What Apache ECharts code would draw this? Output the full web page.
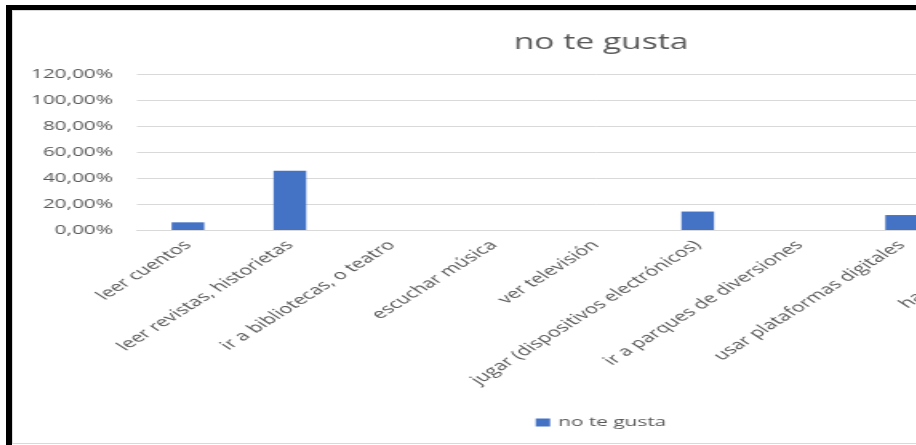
<!DOCTYPE html>
<html>
<head>
    <meta charset="utf-8">
    <title>no te gusta</title>
    <script src="https://cdn.jsdelivr.net/npm/echarts@6/dist/echarts.min.js"></script>
    <style>
        body { margin: 0; background: #fff; overflow: hidden; width: 916px; height: 445px; }
        /* black frame of the screenshot */
        #frame { position: absolute; left: 6px; top: 5px; width: 1000px; height: 440px;
                 border-left: 6px solid #000; border-top: 5px solid #000; }
        /* light chart-area border */
        #area { position: absolute; left: 0; top: 0; width: 1000px; height: 432px;
                border-left: 1px solid #d9d9d9; border-top: 1px solid #d9d9d9; border-bottom: 1px solid #d9d9d9; }
        /* the original picture is stretched sideways */
        #chart { position: absolute; left: 0; top: 0; width: 735px; height: 432px;
                 transform: scaleX(1.6); transform-origin: 0 0; }
    </style>
</head>
<body>
    <div id="frame"><div id="area"><div id="chart"></div></div></div>
    <script type="text/javascript">
        // datos
        var categorias = ['leer cuentos', 'leer revistas, historietas', 'ir a bibliotecas, o teatro',
            'escuchar música', 'ver televisión', 'jugar (dispositivos electrónicos)',
            'ir a parques de diversiones', 'usar plataformas digitales', 'hacer deporte'];
        var noTeGusta = [5.9, 45.6, 0, 0, 0, 14.2, 0, 11.5, 0];
        var nombreSerie = 'no te gusta';

        var gris = '#595959';
        var fuente = '"Open Sans", sans-serif';

        var chart = echarts.init(document.getElementById('chart'));
        var option = {
            backgroundColor: '#fff',
            animation: false,
            title: {
                text: nombreSerie,
                left: 'center',
                top: 17,
                textStyle: { color: gris, fontSize: 21, fontWeight: 'normal', fontFamily: fuente }
            },
            legend: {
                bottom: 9,
                left: 'center',
                itemWidth: 9,
                itemHeight: 8,
                icon: 'rect',
                textStyle: { color: gris, fontSize: 13, fontFamily: fuente },
                data: [nombreSerie]
            },
            grid: { left: 77.5, right: 84, top: 63, bottom: 213, containLabel: false },
            xAxis: {
                type: 'category',
                data: categorias,
                axisLine: { lineStyle: { color: '#d9d9d9' } },
                axisTick: { show: false },
                axisLabel: {
                    rotate: 45,
                    interval: 0,
                    margin: 13,
                    color: gris,
                    fontSize: 13.5,
                    fontFamily: fuente
                }
            },
            yAxis: {
                type: 'value',
                min: 0,
                max: 120,
                interval: 20,
                axisLine: { show: false },
                axisTick: { show: false },
                splitLine: { lineStyle: { color: '#d9d9d9', width: 1 } },
                axisLabel: {
                    margin: 15,
                    color: gris,
                    fontSize: 13,
                    fontFamily: fuente,
                    formatter: function (v) { return v.toFixed(2).replace('.', ',') + '%'; }
                }
            },
            series: [{
                name: nombreSerie,
                type: 'bar',
                data: noTeGusta,
                barWidth: '32%',
                itemStyle: { color: '#4472C4' }
            }]
        };
        chart.setOption(option);
    </script>
</body>
</html>
